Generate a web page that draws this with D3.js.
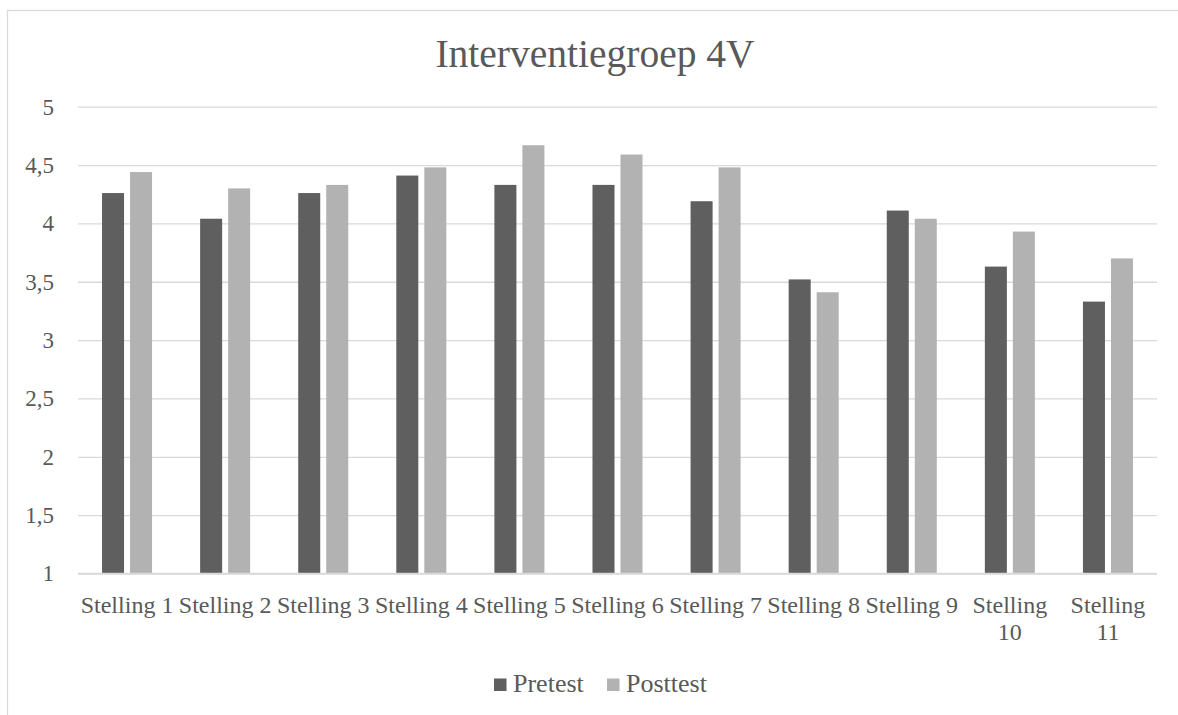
<!DOCTYPE html>
<html>
<head>
<meta charset="utf-8">
<script src="https://cdn.jsdelivr.net/npm/d3@7"></script>
<style>
  html, body { margin: 0; padding: 0; background: #fff; }
  svg { display: block; }
  text { font-family: "Liberation Serif", "DejaVu Serif", serif; fill: #595959; }
</style>
</head>
<body>
<svg id="chart" width="1178" height="715"></svg>
<script>
const title = "Interventiegroep 4V";
const categories = ["Stelling 1","Stelling 2","Stelling 3","Stelling 4","Stelling 5","Stelling 6","Stelling 7","Stelling 8","Stelling 9","Stelling 10","Stelling 11"];
const seriesNames = ["Pretest", "Posttest"];
const pretest  = [4.26, 4.04, 4.26, 4.41, 4.33, 4.33, 4.19, 3.52, 4.11, 3.63, 3.33];
const posttest = [4.44, 4.30, 4.33, 4.48, 4.67, 4.59, 4.48, 3.41, 4.04, 3.93, 3.70];
const yTicks = [1, 1.5, 2, 2.5, 3, 3.5, 4, 4.5, 5];
const colors = ["#5f5f5f", "#b2b2b2"];

const seriesValues = [pretest, posttest];
const svg = d3.select("#chart");
const W = 1178, H = 715;
const plot = { left: 78, right: 1157, top: 106.7, bottom: 573.5 };

svg.append("rect").attr("width", W).attr("height", H).attr("fill", "#fff");
// chart frame (extends beyond the visible area on the right and bottom)
svg.append("rect").attr("x", 7.5).attr("y", 10.5).attr("width", 1300).attr("height", 900)
  .attr("fill", "none").attr("stroke", "#d9d9d9").attr("stroke-width", 1.3);

const x = d3.scaleBand().domain(categories).range([plot.left, plot.right])
  .paddingInner(0.49).paddingOuter(0.245);
const x1 = d3.scaleBand().domain(seriesNames).range([0, x.bandwidth()]).paddingInner(0.214);
const y = d3.scaleLinear().domain([1, 5]).range([plot.bottom, plot.top]);

// Title
svg.append("text").attr("x", 595).attr("y", 66.5)
  .attr("text-anchor", "middle").attr("font-size", 39.5).text(title);

// gridlines + y axis
const fmt = d => String(d).replace(".", ",");
const yAxis = d3.axisLeft(y).tickValues(yTicks).tickFormat(fmt)
  .tickSize(-(plot.right - plot.left)).tickPadding(24);
const gy = svg.append("g").attr("transform", `translate(${plot.left},0)`).call(yAxis);
gy.select(".domain").remove();
gy.selectAll(".tick line").attr("stroke", "#d9d9d9").attr("stroke-width", 1.3);
gy.selectAll(".tick text").attr("font-size", 23).attr("fill", "#595959")
  .attr("font-family", "Liberation Serif, DejaVu Serif, serif");

// bars
const groups = svg.append("g").selectAll("g").data(categories).join("g")
  .attr("transform", d => `translate(${x(d)},0)`);
groups.selectAll("rect").data((d, i) => seriesNames.map((s, j) => ({ s, j, v: seriesValues[j][i] })))
  .join("rect")
  .attr("x", d => x1(d.s)).attr("width", x1.bandwidth())
  .attr("y", d => y(d.v)).attr("height", d => y(1) - y(d.v))
  .attr("fill", d => colors[d.j]);

// x axis baseline
svg.append("line").attr("x1", plot.left).attr("x2", plot.right)
  .attr("y1", y(1)).attr("y2", y(1)).attr("stroke", "#d9d9d9").attr("stroke-width", 1.3);

// category labels (wrap if wider than band step)
const xl = svg.append("g");
categories.forEach(c => {
  const cx = x(c) + x.bandwidth() / 2;
  const t = xl.append("text").attr("x", cx).attr("y", 612.5).attr("text-anchor", "middle")
    .attr("font-size", 24).text(c);
  if (t.node().getComputedTextLength() > x.step()) {
    const words = c.split(" ");
    t.text(null);
    words.forEach((w, k) => t.append("tspan").attr("x", cx).attr("dy", k === 0 ? 0 : 27.5).text(w));
  }
});

// legend
const legend = svg.append("g");
const legX = [494, 607];
seriesNames.forEach((s, j) => {
  legend.append("rect").attr("x", legX[j]).attr("y", 678.5).attr("width", 12.5).attr("height", 12.5)
    .attr("fill", colors[j]);
  legend.append("text").attr("x", legX[j] + 19).attr("y", 692).attr("font-size", 26).text(s);
});
</script>
</body>
</html>
